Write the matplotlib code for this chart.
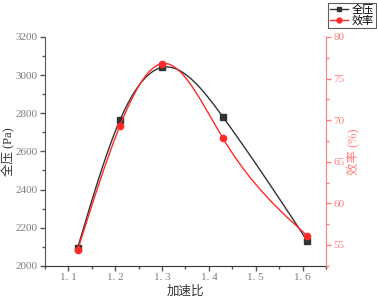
import numpy as np
import matplotlib.pyplot as plt
from matplotlib.ticker import MultipleLocator
from matplotlib.lines import Line2D

plt.rcParams['font.family'] = ['Liberation Serif', 'Noto Sans CJK SC']

# 数据
ratio = [1.12, 1.21, 1.30, 1.43, 1.61]
pressure = [2094, 2763, 3040, 2780, 2130]
efficiency = [54.4, 69.3, 76.8, 67.8, 56.1]


def spline(x, y, n=200):
    # 自然三次样条，只用于画平滑曲线
    x = np.asarray(x, float)
    y = np.asarray(y, float)
    k = len(x)
    h = np.diff(x)
    A = np.zeros((k, k))
    b = np.zeros(k)
    A[0, 0] = A[-1, -1] = 1
    for i in range(1, k - 1):
        A[i, i - 1] = h[i - 1]
        A[i, i] = 2 * (h[i - 1] + h[i])
        A[i, i + 1] = h[i]
        b[i] = 6 * ((y[i + 1] - y[i]) / h[i] - (y[i] - y[i - 1]) / h[i - 1])
    M = np.linalg.solve(A, b)
    xs = np.linspace(x[0], x[-1], n)
    idx = np.clip(np.searchsorted(x, xs) - 1, 0, k - 2)
    x0, x1 = x[idx], x[idx + 1]
    hh = x1 - x0
    ys = (M[idx] * (x1 - xs) ** 3 / (6 * hh) + M[idx + 1] * (xs - x0) ** 3 / (6 * hh)
          + (y[idx] / hh - M[idx] * hh / 6) * (x1 - xs)
          + (y[idx + 1] / hh - M[idx + 1] * hh / 6) * (xs - x0))
    return xs, ys


gray = '#7f7f7f'
red = '#ff2a2a'
lightred = '#ff8080'

fig = plt.figure(figsize=(3.77, 3.0), dpi=100)
ax = fig.add_axes([0.119, 0.114, 0.746, 0.763])
ax2 = ax.twinx()

xs, ys = spline(ratio, pressure)
ax.plot(xs, ys, color='#333333', lw=1.0)
ax.plot(ratio, pressure, 's', color='#333333', ms=4)

xs, ys = spline(ratio, efficiency)
ax2.plot(xs, ys, color=red, lw=1.0)
ax2.plot(ratio, efficiency, 'o', color=red, ms=4.5)

ax.set_xlim(1.05, 1.65)
ax.set_ylim(2000, 3200)
ax2.set_ylim(52.5, 80)

ax.xaxis.set_major_locator(MultipleLocator(0.1))
ax.xaxis.set_minor_locator(MultipleLocator(0.05))
ax.yaxis.set_major_locator(MultipleLocator(200))
ax.yaxis.set_minor_locator(MultipleLocator(100))
ax2.yaxis.set_major_locator(MultipleLocator(5))
ax2.yaxis.set_minor_locator(MultipleLocator(2.5))

ax.set_xticks([1.1, 1.2, 1.3, 1.4, 1.5, 1.6])
ax.set_xticklabels(['1. 1', '1. 2', '1. 3', '1. 4', '1. 5', '1. 6'])

for a in (ax, ax2):
    a.spines['top'].set_visible(False)
ax.spines['right'].set_visible(False)
ax.spines['left'].set_color('#555555')
ax.spines['bottom'].set_color('#333333')
ax2.spines['left'].set_visible(False)
ax2.spines['bottom'].set_visible(False)
ax2.spines['right'].set_color(lightred)

ax.tick_params(axis='both', which='major', direction='out', length=3.5, width=1,
               colors='#555555', labelcolor=gray, labelsize=8, pad=2)
ax.tick_params(axis='both', which='minor', direction='out', length=2, width=1,
               colors='#555555')
ax2.tick_params(axis='y', which='major', direction='out', length=3.5, width=1,
                colors=lightred, labelcolor=lightred, labelsize=8, pad=2)
ax2.tick_params(axis='y', which='minor', direction='out', length=2, width=1,
                colors=lightred)

ax.set_xlabel('加速比', fontsize=9, color='#333333', labelpad=2)
ax.set_ylabel('全压 (Pa)', fontsize=9, color='#333333')
ax2.set_ylabel('效率 (%)', fontsize=9, color=lightred)
ax.yaxis.set_label_coords(-0.105, 0.5)
ax2.yaxis.set_label_coords(1.075, 0.5)

handles = [Line2D([], [], color='#333333', marker='s', ms=3, lw=1),
           Line2D([], [], color=red, marker='o', ms=3.5, lw=1)]
leg = fig.legend(handles, ['全压', '效率'], loc='upper right',
                 bbox_to_anchor=(0.997, 0.99), fontsize=8, frameon=True,
                 fancybox=False, edgecolor='#333333', handlelength=1.6,
                 handletextpad=0.4, borderpad=0.15, labelspacing=0.05,
                 borderaxespad=0)
leg.get_frame().set_linewidth(0.8)

fig.savefig('out.png', dpi=100)
